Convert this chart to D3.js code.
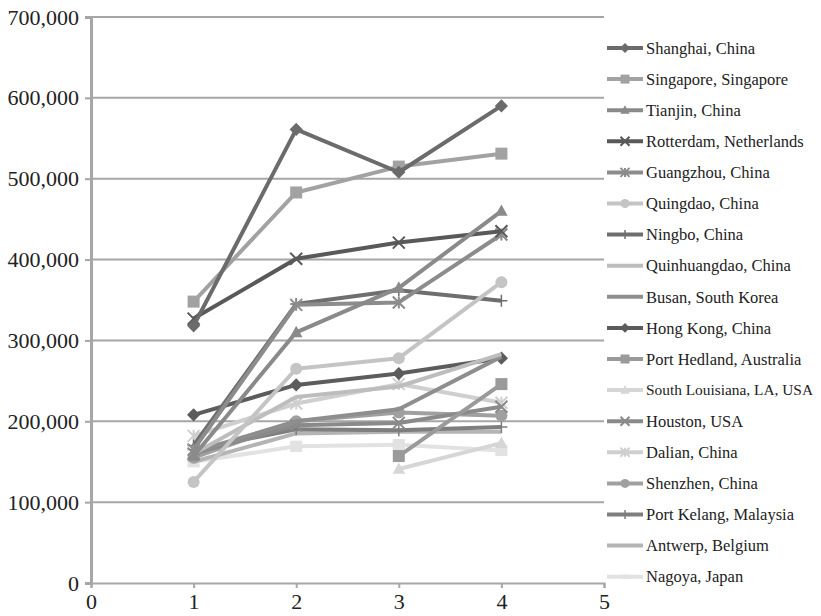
<!DOCTYPE html>
<html>
<head>
<meta charset="utf-8">
<script src="https://cdn.jsdelivr.net/npm/d3@7"></script>
<style>
  html, body { margin: 0; padding: 0; background: #fff; }
  svg { display: block; }
  text { font-family: "Liberation Serif", "Times New Roman", serif; fill: #222; }
</style>
</head>
<body>
<svg id="chart" width="821" height="616"></svg>
<script>
// Port throughput, thousand tonnes, observations 1..4
const ports = [
  "Shanghai, China", "Singapore, Singapore", "Tianjin, China", "Rotterdam, Netherlands",
  "Guangzhou, China", "Quingdao, China", "Ningbo, China", "Quinhuangdao, China",
  "Busan, South Korea", "Hong Kong, China", "Port Hedland, Australia",
  "South Louisiana, LA, USA", "Houston, USA", "Dalian, China", "Shenzhen, China",
  "Port Kelang, Malaysia", "Antwerp, Belgium", "Nagoya, Japan"
];
const periods = [1, 2, 3, 4];
const shanghai      = [318000, 561000, 508000, 590000];
const singapore     = [348000, 483000, 515000, 531000];
const tianjin       = [157000, 310000, 365000, 460000];
const rotterdam     = [327000, 401000, 421000, 435000];
const guangzhou     = [165000, 344000, 347000, 431000];
const qingdao       = [125000, 265000, 278000, 372000];
const ningbo        = [170000, 345000, 362000, 349000];
const quinhuangdao  = [160000, 230000, 243000, 283000];
const busan         = [162000, 200000, 215000, 280000];
const hongKong      = [208000, 245000, 259000, 278000];
const portHedland   = [null, null, 157000, 246000];
const southLouisiana= [null, null, 141000, 173000];
const houston       = [160000, 195000, 198000, 218000];
const dalian        = [182000, 222000, 246000, 223000];
const shenzhen      = [155000, 200000, 211000, 207000];
const portKelang    = [165000, 190000, 189000, 193000];
const antwerp       = [150000, 185000, 187000, 187000];
const nagoya        = [150000, 169000, 171000, 164000];

const xTicks = [0, 1, 2, 3, 4, 5];
const yTicks = [0, 100000, 200000, 300000, 400000, 500000, 600000, 700000];

const seriesValues = [shanghai, singapore, tianjin, rotterdam, guangzhou, qingdao, ningbo,
  quinhuangdao, busan, hongKong, portHedland, southLouisiana, houston, dalian, shenzhen,
  portKelang, antwerp, nagoya];

// styling per series: stroke colour and marker symbol
const colors = ["#6b6b6b", "#a2a2a2", "#8a8a8a", "#595959", "#8c8c8c", "#c4c4c4", "#6e6e6e",
  "#bdbdbd", "#8e8e8e", "#5c5c5c", "#9a9a9a", "#d6d6d6", "#8a8a8a", "#cfcfcf", "#a0a0a0",
  "#7e7e7e", "#b4b4b4", "#e2e2e2"];
const markers = ["diamond", "square", "triangle", "x", "star", "circle", "plus", "none",
  "none", "diamond", "square", "triangle", "x", "star", "circle", "plus", "none", "dash"];

const svg = d3.select("#chart");
const x = d3.scaleLinear().domain([0, 5]).range([91, 604]);
const y = d3.scaleLinear().domain([0, 700000]).range([583, 17]);

// gridlines
svg.append("g").selectAll("line").data(yTicks.filter(d => d > 0)).join("line")
  .attr("x1", x(0)).attr("x2", x(5))
  .attr("y1", d => y(d)).attr("y2", d => y(d))
  .attr("stroke", "#a6a6a6").attr("stroke-width", 2);

// y axis
const yAxis = svg.append("g").attr("transform", `translate(${x(0)},0)`)
  .call(d3.axisLeft(y).tickValues(yTicks).tickSize(6).tickPadding(6)
    .tickFormat(d3.format(",")));
yAxis.select(".domain").attr("stroke", "#a6a6a6").attr("stroke-width", 3);
yAxis.selectAll(".tick line").attr("stroke", "#a6a6a6").attr("stroke-width", 2);
yAxis.selectAll("text").style("font-size", "22px").attr("fill", "#222");

// x axis
const xAxis = svg.append("g").attr("transform", `translate(0,${y(0)})`)
  .call(d3.axisBottom(x).tickValues(xTicks).tickSize(5).tickPadding(5)
    .tickFormat(d3.format("d")));
xAxis.select(".domain").attr("stroke", "#a6a6a6").attr("stroke-width", 2);
xAxis.selectAll(".tick line").attr("stroke", "#a6a6a6").attr("stroke-width", 2);
xAxis.selectAll("text").style("font-size", "22px").attr("fill", "#222");

function drawMarker(g, type, cx, cy, color, s, inLegend) {
  const r = s / 2;
  if (type === "diamond") {
    g.append("path").attr("d", `M${cx},${cy - r * 1.1}L${cx + r * 1.1},${cy}L${cx},${cy + r * 1.1}L${cx - r * 1.1},${cy}Z`).attr("fill", color);
  } else if (type === "square") {
    g.append("rect").attr("x", cx - r).attr("y", cy - r).attr("width", s).attr("height", s).attr("fill", color);
  } else if (type === "dash") {
    // short bar marker; in the legend it blends into the sample line
    const h = inLegend ? 4 : s * 0.95;
    g.append("rect").attr("x", cx - r).attr("y", cy - h / 2).attr("width", s).attr("height", h).attr("fill", color);
  } else if (type === "triangle") {
    g.append("path").attr("d", `M${cx},${cy - r * 1.1}L${cx + r * 1.05},${cy + r * 0.8}L${cx - r * 1.05},${cy + r * 0.8}Z`).attr("fill", color);
  } else if (type === "circle") {
    g.append("circle").attr("cx", cx).attr("cy", cy).attr("r", r).attr("fill", color);
  } else if (type === "x" || type === "star" || type === "plus") {
    const p = d3.path();
    if (type !== "plus") {
      p.moveTo(cx - r, cy - r); p.lineTo(cx + r, cy + r);
      p.moveTo(cx - r, cy + r); p.lineTo(cx + r, cy - r);
    }
    if (type !== "x") { p.moveTo(cx, cy - r); p.lineTo(cx, cy + r); }
    if (type === "plus") { p.moveTo(cx - r, cy); p.lineTo(cx + r, cy); }
    g.append("path").attr("d", p.toString()).attr("stroke", color)
      .attr("stroke-width", type === "plus" ? 1.5 : 2).attr("fill", "none");
  }
}

const line = d3.line().defined(d => d[1] != null).x(d => x(d[0])).y(d => y(d[1]));

// draw last series first so earlier series sit on top
const plot = svg.append("g");
for (let i = seriesValues.length - 1; i >= 0; i--) {
  const pts = periods.map((p, j) => [p, seriesValues[i][j]]);
  const g = plot.append("g");
  g.append("path").datum(pts).attr("d", line)
    .attr("fill", "none").attr("stroke", colors[i]).attr("stroke-width", 4)
    .attr("stroke-linejoin", "round");
  pts.filter(d => d[1] != null).forEach(d => drawMarker(g, markers[i], x(d[0]), y(d[1]), colors[i], 12, false));
}

// legend
const legend = svg.append("g");
const legendFont = 16.5;
const maxLabelWidth = 821 - 646 - 8;
ports.forEach((name, i) => {
  const ly = 48 + i * 31.1;
  const g = legend.append("g");
  g.append("line").attr("x1", 607).attr("x2", 643).attr("y1", ly).attr("y2", ly)
    .attr("stroke", colors[i]).attr("stroke-width", 4);
  drawMarker(g, markers[i], 625, ly, colors[i], 9, true);
  const t = g.append("text").attr("x", 646).attr("y", ly).attr("dy", "0.35em")
    .style("font-size", legendFont + "px").text(name);
  // shrink long labels so they stay inside the frame
  const w = t.node().getComputedTextLength();
  if (w > maxLabelWidth) {
    t.style("font-size", (legendFont * maxLabelWidth / w).toFixed(2) + "px");
  }
});
</script>
</body>
</html>
